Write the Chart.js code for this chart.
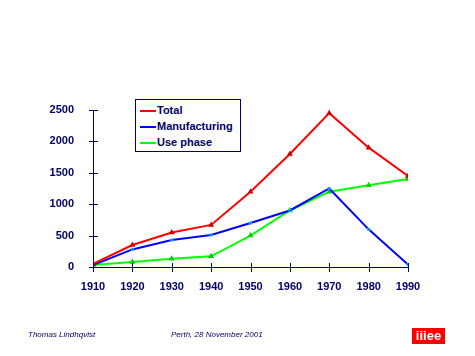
<!DOCTYPE html>
<html><head><meta charset="utf-8">
<script src="https://cdn.jsdelivr.net/npm/chart.js@4"></script>
<style>
html,body{margin:0;padding:0;background:#fff;}
#wrap{position:relative;width:475px;height:356px;overflow:hidden;}
canvas{position:absolute;left:0;top:0;}
.legend{position:absolute;left:135px;top:99px;width:104px;height:51px;border:1px solid #000066;background:#fff;font:bold 11px "Liberation Sans",Arial,sans-serif;color:#000066;}
.row{position:absolute;left:4px;height:14px;line-height:14px;white-space:nowrap;}
.row span.l{display:inline-block;width:16px;height:2px;vertical-align:middle;margin-right:1px;}
.foot{position:absolute;font:italic 8px "Liberation Sans",Arial,sans-serif;color:#000066;}
.logo{position:absolute;left:412px;top:328px;width:33px;height:16px;background:#ff0000;color:#fff;font:bold 13px "Liberation Sans",Arial,sans-serif;line-height:16px;text-align:center;letter-spacing:0px;}
</style></head>
<body><div id="wrap">
<canvas id="c" width="475" height="356"></canvas>
<div class="legend">
 <div class="row" style="top:3px"><span class="l" style="background:#ff0000"></span>Total</div>
 <div class="row" style="top:19px"><span class="l" style="background:#0000ff"></span>Manufacturing</div>
 <div class="row" style="top:35px"><span class="l" style="background:#00ff00"></span>Use phase</div>
</div>
<div class="foot" style="left:28px;top:330px">Thomas Lindhqvist</div>
<div class="foot" style="left:171px;top:330px">Perth, 28 November 2001</div>
<div class="logo">iiiee</div>
</div>
<script>
const years = [1910,1920,1930,1940,1950,1960,1970,1980,1990];
const total = [50,350,550,670,1200,1800,2450,1900,1450];
const manufacturing = [30,280,430,510,700,900,1250,600,40];
const usePhase = [30,80,130,170,500,900,1200,1300,1400];
const yTicks = [0,500,1000,1500,2000,2500];
const navy = '#000066';

function pts(arr){ return years.map((y,i)=>({x:y,y:arr[i]})); }

const crossTicks = {
  id:'crossTicks',
  afterDraw(chart){
    const ctx = chart.ctx, xs = chart.scales.x, ys = chart.scales.y;
    ctx.save();
    ctx.strokeStyle = navy; ctx.lineWidth = 1;
    ctx.beginPath();
    years.forEach(v=>{ const px = Math.round(xs.getPixelForValue(v))+0.5; ctx.moveTo(px, ys.bottom-4); ctx.lineTo(px, ys.bottom+5); });
    yTicks.forEach(v=>{ const py = Math.round(ys.getPixelForValue(v))+0.5; ctx.moveTo(xs.left-4, py); ctx.lineTo(xs.left+5, py); });
    ctx.stroke();
    ctx.restore();
  }
};

new Chart(document.getElementById('c'), {
  type:'line',
  data:{datasets:[
    {label:'Total', data:pts(total), borderColor:'#ff0000', backgroundColor:'#cc0000', borderWidth:2, pointRadius:1.5, pointStyle:'triangle', pointBorderColor:'#cc0000'},
    {label:'Manufacturing', data:pts(manufacturing), borderColor:'#0000ff', backgroundColor:'#0000ff', borderWidth:2, pointRadius:1.5, pointStyle:'rect', pointBorderColor:'#00ccff', pointBorderWidth:1},
    {label:'Use phase', data:pts(usePhase), borderColor:'#00ff00', backgroundColor:'#00cc00', borderWidth:2, pointRadius:1.5, pointStyle:'triangle', pointBorderColor:'#00cc00'}
  ]},
  options:{
    responsive:false, animation:false, devicePixelRatio:1,
    layout:{padding:{left:43,right:67,top:110,bottom:59}},
    plugins:{legend:{display:false}, tooltip:{enabled:false}},
    elements:{line:{tension:0}},
    scales:{
      x:{type:'linear', min:1910, max:1990,
        afterBuildTicks(s){ s.ticks = years.map(v=>({value:v})); },
        afterFit(s){ s.height = 30; },
        grid:{display:false}, border:{display:true,color:navy,width:1},
        ticks:{color:navy, font:{family:'"Liberation Sans", Arial, sans-serif', size:11, weight:'bold'}, padding:5, maxRotation:0, callback:v=>String(v)}},
      y:{min:0, max:2500,
        afterBuildTicks(s){ s.ticks = yTicks.map(v=>({value:v})); },
        afterFit(s){ s.width = 50; },
        grid:{display:false}, border:{display:true,color:navy,width:1},
        ticks:{color:navy, font:{family:'"Liberation Sans", Arial, sans-serif', size:11, weight:'bold'}, padding:11, callback:v=>String(v)}}
    }
  },
  plugins:[crossTicks]
});
</script>
</body></html>
